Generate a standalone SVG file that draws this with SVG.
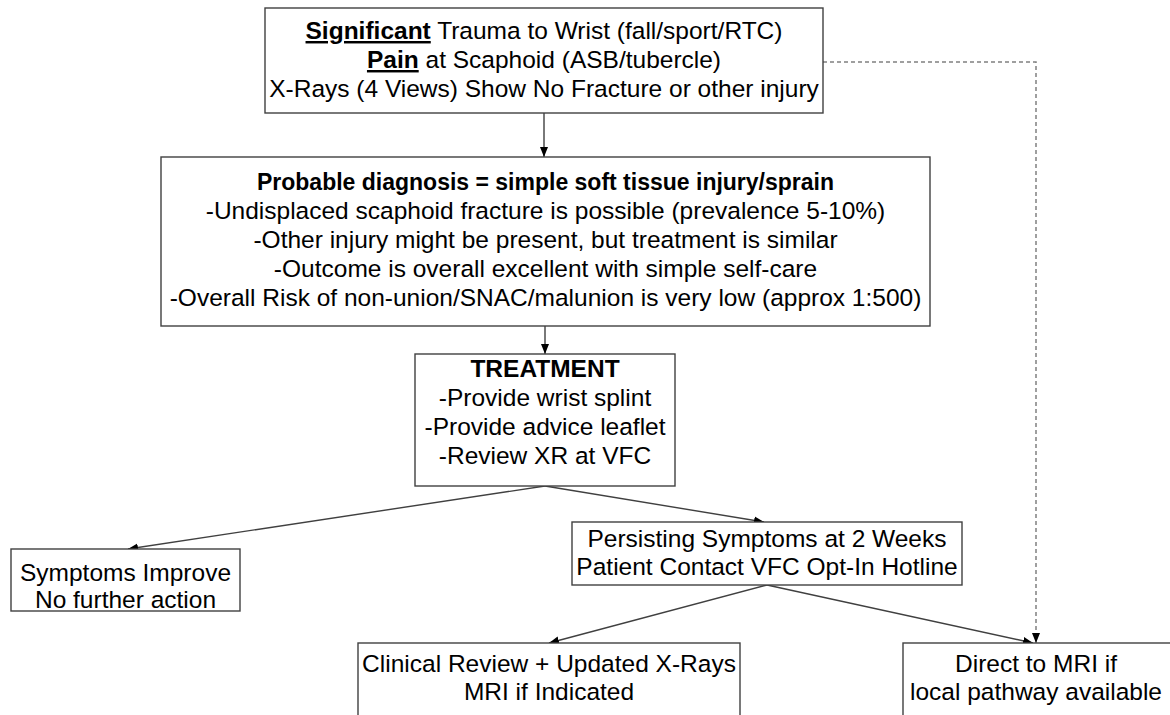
<svg xmlns="http://www.w3.org/2000/svg" width="1170" height="715" viewBox="0 0 1170 715">
<style>
.box{fill:#fff;stroke:#404040;stroke-width:1.4}
.t{font-family:"Liberation Sans",Arial,sans-serif;font-size:24.5px;fill:#000;text-anchor:middle}
.b{font-weight:bold}
.u{font-weight:bold;text-decoration:underline}
.c{fill:none;stroke:#404040;stroke-width:1.4}
.d{fill:none;stroke:#808080;stroke-width:1.5;stroke-dasharray:4 3}
</style>
<defs>
<marker id="ah" viewBox="0 0 10 10" refX="10" refY="5" markerWidth="10" markerHeight="10" markerUnits="userSpaceOnUse" orient="auto">
<path d="M0,1 L10,5 L0,9 Z" fill="#000"/>
</marker>
</defs>
<rect width="1170" height="715" fill="#fff"/>
<g id="connectors">
<line class="c" x1="544" y1="113" x2="544" y2="157" marker-end="url(#ah)"/>
<line class="c" x1="545" y1="326" x2="545" y2="354" marker-end="url(#ah)"/>
<line class="c" x1="545" y1="486" x2="128" y2="549" marker-end="url(#ah)"/>
<line class="c" x1="545" y1="486" x2="764" y2="522" marker-end="url(#ah)"/>
<line class="c" x1="767" y1="585" x2="549" y2="643" marker-end="url(#ah)"/>
<line class="c" x1="767" y1="585" x2="1033" y2="643" marker-end="url(#ah)"/>
<polyline class="d" points="823,62 1036,62 1036,643" marker-end="url(#ah)"/>
</g>
<g id="n1">
<rect class="box" x="265" y="8" width="558" height="105"/>
<text class="t" x="544" y="39"><tspan class="u">Significant</tspan> Trauma to Wrist (fall/sport/RTC)</text>
<text class="t" x="544" y="68"><tspan class="u">Pain</tspan> at Scaphoid (ASB/tubercle)</text>
<text class="t" x="544" y="97">X-Rays (4 Views) Show No Fracture or other injury</text>
</g>
<g id="n2">
<rect class="box" x="161" y="157" width="769" height="169"/>
<text class="t b" x="545.5" y="190" style="font-size:23px">Probable diagnosis = simple soft tissue injury/sprain</text>
<text class="t" x="545.5" y="219">-Undisplaced scaphoid fracture is possible (prevalence 5-10%)</text>
<text class="t" x="545.5" y="248">-Other injury might be present, but treatment is similar</text>
<text class="t" x="545.5" y="277">-Outcome is overall excellent with simple self-care</text>
<text class="t" x="545.5" y="306">-Overall Risk of non-union/SNAC/malunion is very low (approx 1:500)</text>
</g>
<g id="n3">
<rect class="box" x="415" y="354" width="260" height="132"/>
<text class="t b" x="545" y="377">TREATMENT</text>
<text class="t" x="545" y="406">-Provide wrist splint</text>
<text class="t" x="545" y="435">-Provide advice leaflet</text>
<text class="t" x="545" y="464">-Review XR at VFC</text>
</g>
<g id="n4">
<rect class="box" x="11" y="549" width="229" height="62"/>
<text class="t" x="125.5" y="581">Symptoms Improve</text>
<text class="t" x="125.5" y="608">No further action</text>
</g>
<g id="n5">
<rect class="box" x="572" y="522" width="390" height="63"/>
<text class="t" x="767" y="547">Persisting Symptoms at 2 Weeks</text>
<text class="t" x="767" y="575">Patient Contact VFC Opt-In Hotline</text>
</g>
<g id="n6">
<rect class="box" x="358" y="643" width="382" height="80"/>
<text class="t" x="549" y="672">Clinical Review + Updated X-Rays</text>
<text class="t" x="549" y="700">MRI if Indicated</text>
</g>
<g id="n7">
<rect class="box" x="903" y="643" width="275" height="80"/>
<text class="t" x="1036" y="672">Direct to MRI if</text>
<text class="t" x="1036" y="700">local pathway available</text>
</g>
</svg>
